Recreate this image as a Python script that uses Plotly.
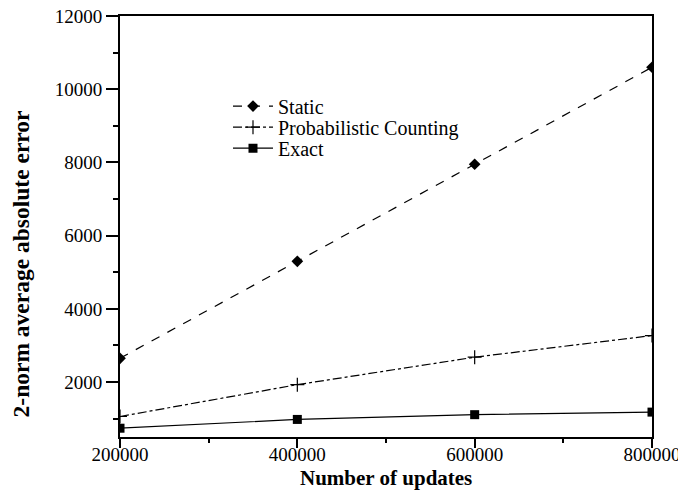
import plotly.graph_objects as go

updates = [200000, 400000, 600000, 800000]
static_err = [2650, 5300, 7950, 10600]
prob_err = [1060, 1930, 2680, 3270]
exact_err = [740, 980, 1110, 1180]

x_ticks = [200000, 400000, 600000, 800000]
x_minor = [300000, 500000, 700000]
y_ticks = [2000, 4000, 6000, 8000, 10000, 12000]
y_minor = [1000, 3000, 5000, 7000, 9000, 11000]

FONT = "Liberation Serif"

fig = go.Figure()
fig.add_trace(go.Scatter(x=updates, y=static_err, name="Static", mode="lines+markers",
                         line=dict(color="black", width=1.2, dash="dash"),
                         marker=dict(symbol="diamond", size=9, color="black"), legend="legend"))
fig.add_trace(go.Scatter(x=updates, y=prob_err, name="Probabilistic Counting", mode="lines+markers",
                         line=dict(color="black", width=1.2, dash="dashdot"),
                         marker=dict(symbol="cross-thin", size=10, color="black",
                                     line=dict(color="black", width=1.2)), legend="legend2"))
fig.add_trace(go.Scatter(x=updates, y=exact_err, name="Exact", mode="lines+markers",
                         line=dict(color="black", width=1.2),
                         marker=dict(symbol="square", size=9, color="black"), legend="legend3"))

def leg(y):
    return dict(x=0.203, y=y, xanchor="left", yanchor="middle",
                bgcolor="rgba(0,0,0,0)", font=dict(size=20, family=FONT, color="black"),
                itemwidth=40)

fig.update_layout(
    width=678, height=485,
    margin=dict(l=112, r=34, t=8, b=56),
    paper_bgcolor="white", plot_bgcolor="white",
    font=dict(family=FONT, size=19, color="black"),
    showlegend=True,
    legend=leg(0.786), legend2=leg(0.736), legend3=leg(0.686),
    xaxis=dict(range=[200000, 800000], tickvals=x_ticks,
               ticktext=[str(v) for v in x_ticks], automargin=False,
               ticklabeloverflow="allow", ticklabelstandoff=-10,
               showgrid=False, zeroline=False, showline=True, linecolor="black", linewidth=2,
               mirror=True, ticks="outside", ticklen=9, tickwidth=1.5, tickcolor="black",
               minor=dict(tickvals=x_minor, ticks="outside", ticklen=4,
                          tickwidth=1.5, tickcolor="black"),
               tickfont=dict(size=19, family=FONT)),
    yaxis=dict(range=[500, 12000], tickvals=y_ticks,
               ticktext=[str(v) for v in y_ticks], automargin=False,
               ticklabeloverflow="allow",
               showgrid=False, zeroline=False, showline=True, linecolor="black", linewidth=2,
               mirror=True, ticks="outside", ticklen=12, tickwidth=1.5, tickcolor="black",
               minor=dict(tickvals=y_minor, ticks="outside", ticklen=5,
                          tickwidth=1.5, tickcolor="black"),
               tickfont=dict(size=19, family=FONT)),
    annotations=[
        dict(text="<b>Number of updates</b>", xref="paper", yref="paper",
             x=0.5, y=-0.1318, xanchor="center", yanchor="bottom", showarrow=False,
             font=dict(size=21, family=FONT)),
        dict(text="<b>2-norm average absolute error</b>", xref="paper", yref="paper",
             x=-0.186, y=0.41, xanchor="center", yanchor="middle", showarrow=False,
             textangle=-90, font=dict(size=23.5, family=FONT)),
    ],
)

fig.write_html("out.html")
